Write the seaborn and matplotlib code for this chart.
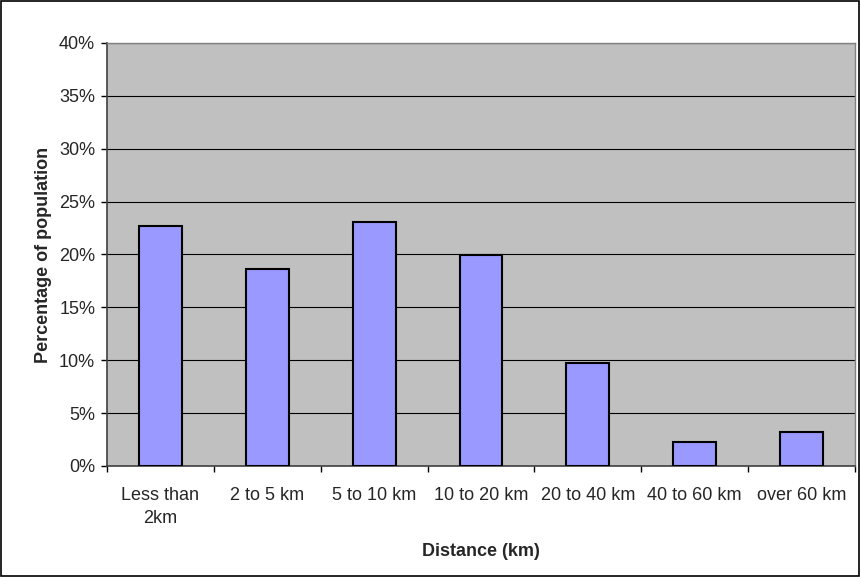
import matplotlib
matplotlib.use("Agg")
import matplotlib.pyplot as plt
import seaborn as sns
import pandas as pd
from matplotlib.patches import Rectangle
from matplotlib.ticker import PercentFormatter, FixedLocator

# distance categories and share of population (%)
categories = ["Less than\n2km", "2 to 5 km", "5 to 10 km", "10 to 20 km",
              "20 to 40 km", "40 to 60 km", "over 60 km"]
percent = [22.65, 18.6, 23.1, 19.95, 9.7, 2.3, 3.25]

df = pd.DataFrame({"distance": categories, "pct": percent})

sns.set_style("white")
plt.rcParams['font.family'] = ['Liberation Sans', 'DejaVu Sans']

fig = plt.figure(figsize=(8.61, 5.77), dpi=100)
ax = fig.add_axes([107/861, 1 - 466/577, (855 - 107)/861, (466 - 43)/577])

sns.barplot(data=df, x="distance", y="pct", color="#9999FF", saturation=1,
            width=0.4, edgecolor="black", linewidth=1.5, ax=ax, zorder=3)

ax.set_facecolor("#C0C0C0")
ax.set_ylim(0, 40)
ax.set_xlim(-0.5, len(categories) - 0.5)
ax.set_yticks(range(0, 41, 5))
ax.yaxis.set_major_formatter(PercentFormatter(decimals=0))
ax.grid(axis="y", color="black", linewidth=0.8, zorder=0)
ax.set_axisbelow(True)

# category ticks at the boundaries, labels in the middle
ax.xaxis.set_minor_locator(FixedLocator([i - 0.5 for i in range(len(categories) + 1)]))
ax.tick_params(axis="x", which="major", length=0, pad=15, labelsize=13)
ax.tick_params(axis="x", which="minor", length=4.5, width=1, color="black", direction="out")
ax.tick_params(axis="y", length=4, width=1, color="black", direction="out", labelsize=13, pad=4.5)
ax.tick_params(bottom=True, left=True, which="both")
for lbl in ax.get_xticklabels():
    lbl.set_linespacing(1.45)

for s in ["top", "right"]:
    ax.spines[s].set_color("#808080")
    ax.spines[s].set_linewidth(1)
for s in ["left", "bottom"]:
    ax.spines[s].set_color("#404040")
    ax.spines[s].set_linewidth(1.2)

ax.set_xlabel("Distance (km)", fontsize=13, fontweight="bold", va="center")
ax.set_ylabel("Percentage of population", fontsize=13, fontweight="bold", va="center")
ax.xaxis.set_label_coords(0.5, (466 - 551) / 423)
ax.yaxis.set_label_coords((44 - 107) / 748, 0.5)

# outer frame around the chart
fig.patches.append(Rectangle((0.001, 0.002), 0.997, 0.996, transform=fig.transFigure,
                             fill=False, edgecolor="black", linewidth=1.2))

fig.savefig("out.png", dpi=100)
